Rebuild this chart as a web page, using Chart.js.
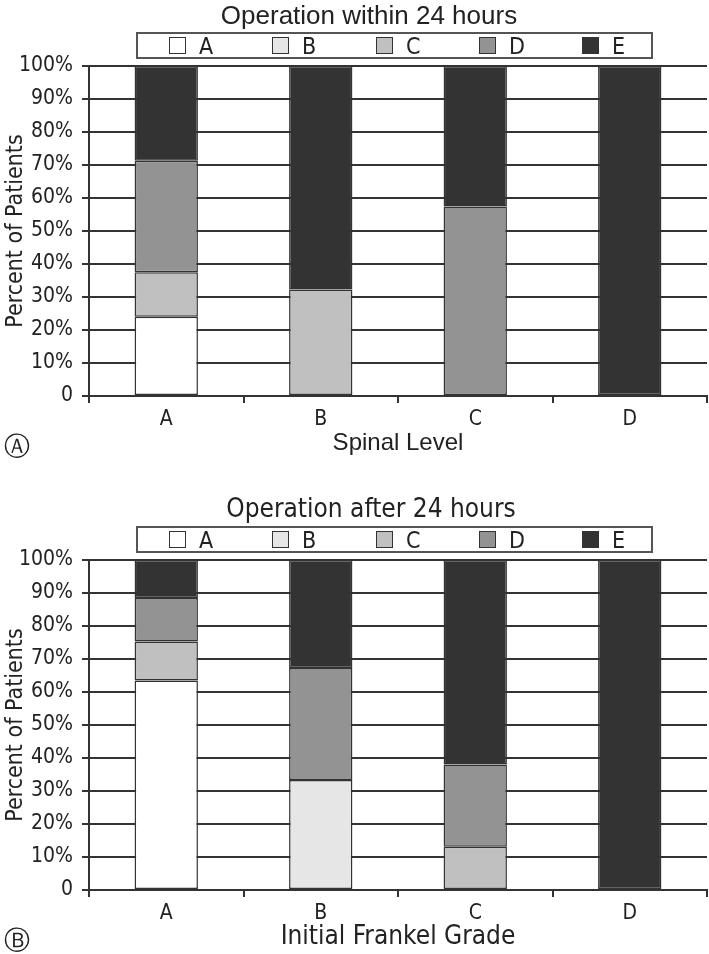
<!DOCTYPE html>
<html>
<head>
<meta charset="utf-8">
<script src="https://cdn.jsdelivr.net/npm/chart.js@4.4.1/dist/chart.umd.min.js"></script>
<style>
  body { margin: 0; background: #fff; width: 709px; height: 954px; position: relative; overflow: hidden; }
  .panel { position: absolute; left: 0; width: 709px; height: 460px; }
  .title { position: absolute; top: 0; white-space: nowrap; color: #222; transform: translateX(-50%); line-height: 1; }
  .legend { position: absolute; left: 136px; top: 32px; width: 513px; height: 23px; border: 2px solid #555; background: #fff; }
  .item { position: absolute; top: 0; height: 23px; display: flex; align-items: center; color: #222;
          font: 23px 'Liberation Sans Narrow', 'DejaVu Sans Condensed', sans-serif; }
  .swatch { width: 15px; height: 15px; border: 1.5px solid #333; margin-right: 13px; }
  .tag { position: absolute; left: 4px; top: 429px; font: 26px 'DejaVu Sans', sans-serif; color: #222; }
</style>
</head>
<body>
<div class="panel" id="panelA" style="top:0">
  <canvas id="chartA"></canvas>
  <div class="title" style="left:369px; top:0px; font:26px 'Liberation Sans', sans-serif">Operation within 24 hours</div>
  <div class="legend" id="legendA"></div>
  <div class="tag">Ⓐ</div>
</div>
<div class="panel" id="panelB" style="top:494px">
  <canvas id="chartB"></canvas>
  <div class="title" style="left:371px; top:-1px; font:26px 'Liberation Sans Narrow', 'DejaVu Sans Condensed', sans-serif">Operation after 24 hours</div>
  <div class="legend" id="legendB"></div>
  <div class="tag">Ⓑ</div>
</div>
<script>
const categories = ['A', 'B', 'C', 'D'];
const grades = ['A', 'B', 'C', 'D', 'E'];
const gradeColors = ['#ffffff', '#e6e6e6', '#c0c0c0', '#939393', '#333333'];
const yTickLabels = ['0', '10%', '20%', '30%', '40%', '50%', '60%', '70%', '80%', '90%', '100%'];

// operation within 24 hours, percent per grade (A..E) for each category
const within24 = [
  [24, null, null, null],
  [null, null, null, null],
  [13.5, 32.3, null, null],
  [33.8, null, 57.4, null],
  [28.7, 67.7, 42.6, 100]
];

// operation after 24 hours
const after24 = [
  [63.5, null, null, null],
  [null, 33.3, null, null],
  [11.8, null, 13.1, null],
  [13.2, 34, 24.9, null],
  [11.5, 32.7, 62, 100]
];

const narrow = "'Liberation Sans Narrow', 'DejaVu Sans Condensed', sans-serif";
const regular = "'Liberation Sans', sans-serif";
const ink = '#222';
const lineCol = '#333';

function buildLegend(id) {
  const box = document.getElementById(id);
  const lefts = [31, 134, 238, 341, 444];
  grades.forEach((g, i) => {
    const item = document.createElement('div');
    item.className = 'item';
    item.style.left = lefts[i] + 'px';
    const sw = document.createElement('span');
    sw.className = 'swatch';
    sw.style.background = gradeColors[i];
    item.appendChild(sw);
    item.appendChild(document.createTextNode(g));
    box.appendChild(item);
  });
}

function makeChart(canvasId, series, xTitle, xTitleFont, xTitlePad) {
  const ctx = document.getElementById(canvasId).getContext('2d');
  return new Chart(ctx, {
    type: 'bar',
    data: {
      labels: categories,
      datasets: grades.map((g, i) => ({
        label: g,
        data: series[i],
        backgroundColor: gradeColors[i],
        borderColor: lineCol,
        borderWidth: 1.5,
        borderSkipped: false,
        categoryPercentage: 1,
        barPercentage: 0.41
      }))
    },
    options: {
      responsive: true,
      maintainAspectRatio: false,
      animation: false,
      layout: { padding: { top: 66, right: 2, bottom: 0, left: 0 } },
      plugins: {
        legend: { display: false },
        title: { display: false },
        tooltip: { enabled: false }
      },
      scales: {
        x: {
          stacked: true,
          afterFit: s => { s.height = 64; },
          grid: { display: true, drawOnChartArea: false, drawTicks: true, tickLength: 7, color: lineCol, lineWidth: 2 },
          border: { color: lineCol, width: 2 },
          ticks: { color: ink, padding: 4, font: { family: narrow, size: 21 } },
          title: { display: true, text: xTitle, color: ink, padding: { top: 0, bottom: xTitlePad }, font: xTitleFont }
        },
        y: {
          stacked: true,
          min: 0,
          max: 100,
          afterFit: s => { s.width = 89; },
          grid: { color: lineCol, lineWidth: 2, tickLength: 7 },
          border: { color: lineCol, width: 2 },
          ticks: {
            stepSize: 10,
            color: ink,
            padding: 9,
            font: { family: narrow, size: 21 },
            callback: (v, i) => yTickLabels[i]
          },
          title: { display: true, text: 'Percent of Patients', color: ink, padding: { top: 2, bottom: 0 }, font: { family: narrow, size: 23 } }
        }
      }
    }
  });
}

buildLegend('legendA');
buildLegend('legendB');
makeChart('chartA', within24, 'Spinal Level', { family: regular, size: 24 }, 2);
makeChart('chartB', after24, 'Initial Frankel Grade', { family: narrow, size: 26 }, 1);
</script>
</body>
</html>
